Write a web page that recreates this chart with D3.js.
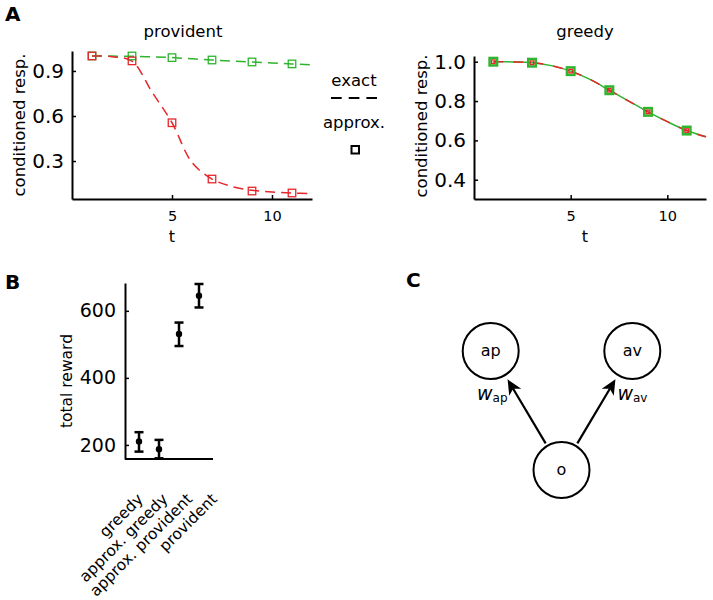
<!DOCTYPE html>
<html>
<head>
<meta charset="utf-8">
<script src="https://cdn.jsdelivr.net/npm/d3@7"></script>
<style>
  body { margin: 0; background: #fff; }
  svg { display: block; font-family: "DejaVu Sans", sans-serif; }
</style>
</head>
<body>
<svg id="chart" width="713" height="600"></svg>
<script>
// ---------- Data ----------
// Panel A: exact curves (t = 1..12) and approximation markers (t = 1,3,...,11)
const tCurve = [1, 2, 3, 4, 5, 6, 7, 8, 9, 10, 11, 12];
const providentRedExact = [1.0, 0.995, 0.965, 0.76, 0.555, 0.29, 0.18, 0.13, 0.105, 0.093, 0.087, 0.082];
const providentGreenExact = [1.0, 0.999, 0.998, 0.994, 0.989, 0.981, 0.973, 0.966, 0.96, 0.953, 0.947, 0.941];
const greedyRedExact = [1.0, 0.999, 0.995, 0.98, 0.952, 0.91, 0.855, 0.80, 0.745, 0.695, 0.65, 0.618];
const greedyGreenExact = [1.0, 0.999, 0.995, 0.98, 0.952, 0.91, 0.855, 0.80, 0.745, 0.695, 0.65, 0.618];

const tApprox = [1, 3, 5, 7, 9, 11];
const providentRedApprox = [1.0, 0.967, 0.555, 0.18, 0.10, 0.087];
const providentGreenApprox = [1.0, 1.0, 0.989, 0.973, 0.96, 0.947];
const greedyRedApprox = [1.0, 0.995, 0.952, 0.855, 0.745, 0.65];
const greedyGreenApprox = [1.0, 0.995, 0.952, 0.855, 0.745, 0.65];

const tTicks = [5, 10];
const providentYTicks = [0.3, 0.6, 0.9];
const greedyYTicks = [0.4, 0.6, 0.8, 1.0];

// Panel B
const rewardCategories = ["greedy", "approx. greedy", "approx. provident", "provident"];
const rewardMean = [210, 187, 531, 645];
const rewardLow = [180, 160, 495, 610];
const rewardHigh = [238, 215, 565, 680];
const rewardTicks = [200, 400, 600];

// Panel C
const nodeNames = ["ap", "av", "o"];
const nodeCols = [0, 2, 1];
const nodeRows = [0, 0, 1];
const edgeSources = ["o", "o"];
const edgeTargets = ["ap", "av"];
const edgeSubscripts = ["ap", "av"];

// ---------- Style ----------
const RED = "#e6262b";
const GREEN = "#2db52d";
const svg = d3.select("#chart");

function zip(xs, ys) { return xs.map((x, i) => [x, ys[i]]); }

// ---------- Panel A ----------
function linePanel(opts) {
  const x = d3.scaleLinear().domain([0, 12]).range(opts.xr);
  const y = d3.scaleLinear().domain(opts.yd).range([199, opts.yTop]);
  const g = svg.append("g");

  const line = d3.line().x(d => x(d[0])).y(d => y(d[1])).curve(d3.curveCatmullRom.alpha(0.5));

  opts.series.forEach(s => {
    g.append("path").datum(zip(tCurve, s.exact))
      .attr("d", line).attr("fill", "none").attr("stroke", s.color)
      .attr("stroke-width", 1.5).attr("stroke-dasharray", s.dash);
  });
  opts.markers.forEach(m => {
    g.selectAll(null).data(zip(tApprox, m.vals)).enter().append("rect")
      .attr("x", d => x(d[0]) - m.size / 2).attr("y", d => y(d[1]) - m.size / 2)
      .attr("width", m.size).attr("height", m.size)
      .attr("fill", "none").attr("stroke", m.color).attr("stroke-width", m.sw);
  });

  // axes (inward ticks)
  const yAxis = g.append("g").attr("transform", `translate(${opts.xr[0]},0)`)
    .call(d3.axisLeft(y).tickValues(opts.yTicks).tickFormat(d3.format(".1f")).tickSizeInner(-4).tickSizeOuter(0).tickPadding(8));
  yAxis.select(".domain").attr("stroke-width", 2);
  yAxis.selectAll("text").attr("font-size", 20).attr("font-family", "DejaVu Sans").attr("fill", "#000");
  yAxis.selectAll(".tick line").attr("stroke-width", 1.5);

  const xAxis = g.append("g").attr("transform", "translate(0,199)")
    .call(d3.axisBottom(x).tickValues(tTicks).tickSizeInner(-4).tickSizeOuter(0).tickPadding(12));
  xAxis.select(".domain").attr("stroke-width", 2);
  xAxis.selectAll("text").attr("font-size", 14.5).attr("font-family", "DejaVu Sans").attr("fill", "#000");
  xAxis.selectAll(".tick line").attr("stroke-width", 1.5);

  g.append("text").attr("x", opts.titleX).attr("y", 37).attr("text-anchor", "middle")
    .attr("font-size", 16.5).text(opts.title);
  g.append("text").attr("x", opts.tX).attr("y", 242).attr("text-anchor", "middle")
    .attr("font-size", 16).text("t");
  g.append("text").attr("transform", `translate(${opts.ylabX},${opts.ylabY}) rotate(-90)`)
    .attr("text-anchor", "middle").attr("font-size", 16.5).text("conditioned resp.");
}

linePanel({
  xr: [72, 312], yd: [0.047, 1.033], yTop: 51, yTicks: providentYTicks,
  title: "provident", titleX: 183, tX: 172, ylabX: 25, ylabY: 125,
  series: [
    { exact: providentGreenExact, color: GREEN, dash: "10,6" },
    { exact: providentRedExact, color: RED, dash: "10,6" }
  ],
  markers: [
    { vals: providentGreenApprox, color: GREEN, size: 7.5, sw: 1.3 },
    { vals: providentRedApprox, color: RED, size: 7.5, sw: 1.3 }
  ]
});

linePanel({
  xr: [474, 706], yd: [0.302, 1.029], yTop: 56, yTicks: greedyYTicks,
  title: "greedy", titleX: 585, tX: 585, ylabX: 427, ylabY: 126,
  series: [
    { exact: greedyGreenExact, color: GREEN, dash: null },
    { exact: greedyRedExact, color: RED, dash: "10,10" }
  ],
  markers: [
    { vals: greedyGreenApprox, color: GREEN, size: 7.5, sw: 2.5 },
    { vals: greedyRedApprox, color: RED, size: 3.5, sw: 1.3 }
  ]
});

// Legend
const leg = svg.append("g");
leg.append("text").attr("x", 354).attr("y", 86).attr("text-anchor", "middle").attr("font-size", 16.5).text("exact");
leg.append("line").attr("x1", 331).attr("x2", 377).attr("y1", 98).attr("y2", 98)
  .attr("stroke", "#000").attr("stroke-width", 2).attr("stroke-dasharray", "10.7,7");
leg.append("text").attr("x", 354).attr("y", 128).attr("text-anchor", "middle").attr("font-size", 16.5).text("approx.");
leg.append("rect").attr("x", 351.5).attr("y", 146).attr("width", 7.5).attr("height", 7.5)
  .attr("fill", "none").attr("stroke", "#000").attr("stroke-width", 2);

// Panel letters
[["A", 5, 21], ["B", 5, 289], ["C", 406, 287]].forEach(([t, px, py]) => {
  svg.append("text").attr("x", px).attr("y", py).attr("font-size", 20).attr("font-weight", "bold").text(t);
});

// ---------- Panel B ----------
(function () {
  const idx = rewardCategories.map((c, i) => i + 1);
  const x = d3.scaleLinear().domain([0.3, 4.7]).range([125, 213]);
  const y = d3.scaleLinear().domain([158, 683]).range([459, 283]);
  const g = svg.append("g");

  const yAxis = g.append("g").attr("transform", "translate(125,0)")
    .call(d3.axisLeft(y).tickValues(rewardTicks).tickSizeInner(-4).tickSizeOuter(0).tickPadding(9));
  yAxis.select(".domain").attr("stroke-width", 2);
  yAxis.selectAll("text").attr("font-size", 19).attr("font-family", "DejaVu Sans").attr("fill", "#000");
  yAxis.selectAll(".tick line").attr("stroke-width", 1.5);

  g.append("path").attr("d", d3.line()([[x.range()[0], 459], [x.range()[1], 459]]))
    .attr("stroke", "#000").attr("stroke-width", 2);

  const cap = 4.5;
  idx.forEach((v, i) => {
    const cx = x(v);
    g.append("line").attr("x1", cx).attr("x2", cx).attr("y1", y(rewardLow[i])).attr("y2", y(rewardHigh[i]))
      .attr("stroke", "#000").attr("stroke-width", 2.5);
    [rewardLow[i], rewardHigh[i]].forEach(val => {
      g.append("line").attr("x1", cx - cap).attr("x2", cx + cap).attr("y1", y(val)).attr("y2", y(val))
        .attr("stroke", "#000").attr("stroke-width", 2.5);
    });
    g.append("circle").attr("cx", cx).attr("cy", y(rewardMean[i])).attr("r", 3.2).attr("fill", "#000");
  });

  const labelX = d3.scaleLinear().domain([1, 4]).range([x(1) + 5, x(4) + 19]);
  idx.forEach((v, i) => {
    g.append("text").attr("transform", `translate(${labelX(v)},500) rotate(-45)`)
      .attr("text-anchor", "end").attr("font-size", 15.5).text(rewardCategories[i]);
  });

  g.append("text").attr("transform", "translate(72,381) rotate(-90)")
    .attr("text-anchor", "middle").attr("font-size", 15.5).text("total reward");
})();

// ---------- Panel C ----------
(function () {
  const cx = d3.scaleLinear().domain([0, 2]).range([490.7, 632.3]);
  const cy = d3.scaleLinear().domain([0, 1]).range([351, 470]);
  const R = 28;
  const nodes = nodeNames.map((n, i) => ({ name: n, x: cx(nodeCols[i]), y: cy(nodeRows[i]) }));
  const byName = Object.fromEntries(nodes.map(n => [n.name, n]));
  const g = svg.append("g");

  edgeSources.forEach((s, i) => {
    const a = byName[s], b = byName[edgeTargets[i]];
    const dx = b.x - a.x, dy = b.y - a.y, L = Math.hypot(dx, dy);
    const ux = dx / L, uy = dy / L, px = -uy, py = ux;
    const sx = a.x + ux * (R + 3), sy = a.y + uy * (R + 3);
    const tx = b.x - ux * (R + 5), ty = b.y - uy * (R + 5);
    const hl = 15, hw = 7, notch = 4;
    const bx = tx - ux * hl, by = ty - uy * hl;
    g.append("line").attr("x1", sx).attr("y1", sy).attr("x2", tx - ux * 8).attr("y2", ty - uy * 8)
      .attr("stroke", "#000").attr("stroke-width", 2.2);
    g.append("path").attr("d", d3.line()([
      [tx, ty], [bx + px * hw, by + py * hw], [bx + ux * notch, by + uy * notch], [bx - px * hw, by - py * hw]
    ]) + "Z").attr("fill", "#000");

    const left = dx < 0;
    const t = g.append("text").attr("x", tx + (left ? 0 : 2)).attr("y", ty + 21)
      .attr("text-anchor", left ? "end" : "start");
    t.append("tspan").attr("font-style", "italic").attr("font-size", 19).text("w");
    t.append("tspan").attr("font-size", 12).attr("dy", 2).text(edgeSubscripts[i]);
  });

  nodes.forEach(n => {
    g.append("circle").attr("cx", n.x).attr("cy", n.y).attr("r", R)
      .attr("fill", "#fff").attr("stroke", "#000").attr("stroke-width", 2);
    g.append("text").attr("x", n.x).attr("y", n.y).attr("dy", "0.32em")
      .attr("text-anchor", "middle").attr("font-size", 16).text(n.name);
  });
})();
</script>
</body>
</html>
